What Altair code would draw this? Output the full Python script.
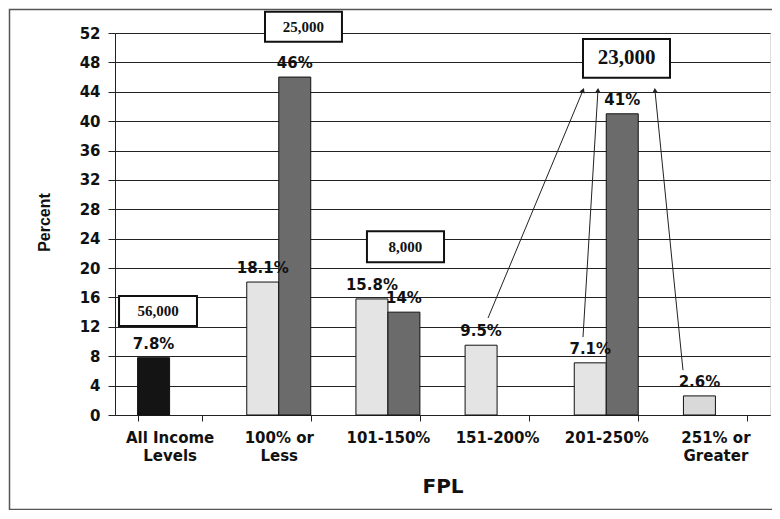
import altair as alt
import pandas as pd

# ---- chart values ----
categories = ["All Income Levels", "100% or Less", "101-150%", "151-200%", "201-250%", "251% or Greater"]
series1 = [7.8, 18.1, 15.8, 9.5, 7.1, 2.6]
series2 = [None, 46, 14, None, 41, None]
labels1 = ["7.8%", "18.1%", "15.8%", "9.5%", "7.1%", "2.6%"]
labels2 = ["", "46%", "14%", "", "41%", ""]
kinds1 = ["black", "light", "light", "light", "light", "dotted"]
label_lines = {
    "All Income Levels": ["All Income", "Levels"],
    "100% or Less": ["100% or", "Less"],
    "251% or Greater": ["251% or", "Greater"],
}

# ---- annotation callouts (x in category units 0..6, y in percent units) ----
box_text = ["25,000", "56,000", "8,000", "23,000"]
box_x1 = [1.374, 0.037, 2.308, 4.287]
box_x2 = [2.079, 0.751, 3.014, 5.084]
box_y1 = [50.8, 12.1, 20.8, 45.9]
box_y2 = [54.9, 16.2, 25.0, 51.2]
box_size = [15, 15, 15, 21]

arrow_x1 = [3.417, 4.287, 5.203]
arrow_y1 = [13.2, 10.6, 6.1]
arrow_x2 = [4.287, 4.424, 4.946]
arrow_y2 = [44.2, 44.2, 44.2]
arrow_angle = [22.6, 3.5, 354.3]

rows = []
for i, c in enumerate(categories):
    rows.append({"cat": c, "series": "s1", "value": series1[i], "kind": kinds1[i], "label": labels1[i]})
    if series2[i] is not None:
        rows.append({"cat": c, "series": "s2", "value": series2[i], "kind": "dark", "label": labels2[i]})
bars_df = pd.DataFrame(rows)

boxes_df = pd.DataFrame({
    "text": box_text, "x1": box_x1, "x2": box_x2, "y1": box_y1, "y2": box_y2, "size": box_size,
})
boxes_df["xc"] = (boxes_df["x1"] + boxes_df["x2"]) / 2
boxes_df["yc"] = (boxes_df["y1"] + boxes_df["y2"]) / 2

arrows_df = pd.DataFrame({
    "x1": arrow_x1, "y1": arrow_y1, "x2": arrow_x2, "y2": arrow_y2, "angle": arrow_angle,
})

expr_parts = []
for k, v in label_lines.items():
    expr_parts.append(f"datum.value == '{k}' ? ['{v[0]}', '{v[1]}'] : ")
label_expr = "".join(expr_parts) + "datum.value"

y_scale = alt.Scale(domain=[0, 52], nice=False, zero=True)
x_scale = alt.Scale(domain=categories, paddingInner=0.414, paddingOuter=0.207)
off_scale = alt.Scale(domain=["s1", "s2"], paddingInner=0, paddingOuter=0)

y_axis = alt.Axis(
    values=list(range(0, 53, 4)), tickSize=7, labelPadding=8, grid=True,
    gridColor="#222", domainColor="#222", tickColor="#222", labelOverlap=False,
    labelFont="DejaVu Sans", labelFontWeight="bold", labelFontSize=15, labelColor="#111",
    title="Percent", titleFont="Liberation Sans", titleFontWeight="bold", titleFontSize=16,
    titleColor="#111", titleX=-71, titleY=189, titleAngle=270, titleBaseline="middle",
)
x_axis = alt.Axis(
    title="FPL", labelExpr=label_expr, labelAngle=0, tickBand="extent", tickSize=6,
    labelPadding=9, labelFont="DejaVu Sans", labelFontWeight="bold", labelFontSize=15,
    labelLineHeight=18, labelColor="#111", domainColor="#222", tickColor="#222", grid=False,
    labelOverlap=False,
    titleFont="DejaVu Sans", titleFontWeight="bold", titleFontSize=20, titleColor="#111",
    titleY=71, titleBaseline="middle",
)

fill_scale = alt.Scale(domain=["black", "light", "dark", "dotted"],
                       range=["#141414", "#e4e4e4", "#6b6b6b", "#d9d9d9"])

border = alt.Chart(pd.DataFrame({"a": [0]})).mark_rect(
    fill=None, stroke="#555", strokeWidth=1.5
).encode(
    x=alt.value(-105.5), x2=alt.value(720), y=alt.value(-23.5), y2=alt.value(476.5)
)

bars = alt.Chart(bars_df).mark_bar(stroke="#111", strokeWidth=1).encode(
    x=alt.X("cat:N", sort=categories, scale=x_scale, axis=x_axis),
    xOffset=alt.XOffset("series:N", scale=off_scale),
    y=alt.Y("value:Q", scale=y_scale, axis=y_axis),
    fill=alt.Fill("kind:N", scale=fill_scale, legend=None),
)

bar_labels = alt.Chart(bars_df).mark_text(
    font="DejaVu Sans", fontWeight="bold", fontSize=15, color="#111",
    baseline="alphabetic", dy=-9,
).encode(
    x=alt.X("cat:N", sort=categories, scale=x_scale, axis=x_axis),
    xOffset=alt.XOffset("series:N", scale=off_scale),
    y=alt.Y("value:Q", scale=y_scale, axis=y_axis),
    text="label:N",
)

ax = alt.Scale(domain=[0, 6], nice=False, zero=False)

arrow_lines = alt.Chart(arrows_df).mark_rule(color="#222", strokeWidth=1).encode(
    x=alt.X("x1:Q", scale=ax, axis=None), x2="x2:Q",
    y=alt.Y("y1:Q", scale=y_scale, axis=y_axis), y2="y2:Q",
)
arrow_heads = alt.Chart(arrows_df).mark_point(
    shape="triangle-up", filled=True, color="#222", size=30, opacity=1
).encode(
    x=alt.X("x2:Q", scale=ax, axis=None),
    y=alt.Y("y2:Q", scale=y_scale, axis=y_axis),
    angle=alt.Angle("angle:Q", scale=None),
)

box_rects = alt.Chart(boxes_df).mark_rect(fill="white", stroke="#111", strokeWidth=2).encode(
    x=alt.X("x1:Q", scale=ax, axis=None), x2="x2:Q",
    y=alt.Y("y1:Q", scale=y_scale, axis=y_axis), y2="y2:Q",
)
box_labels = alt.Chart(boxes_df).mark_text(
    font="Liberation Serif", fontWeight="bold", color="#111", baseline="middle", align="center"
).encode(
    x=alt.X("xc:Q", scale=ax, axis=None),
    y=alt.Y("yc:Q", scale=y_scale, axis=y_axis),
    text="text:N",
    size=alt.Size("size:Q", scale=None, legend=None),
)

chart = alt.layer(
    border, alt.layer(bars, bar_labels), arrow_lines, arrow_heads, box_rects, box_labels
).resolve_scale(x="independent").properties(
    width=655, height=382,
    autosize=alt.AutoSizeParams(type="none"),
    padding={"left": 107, "top": 25, "right": 2, "bottom": 95},
).configure_view(stroke="#222", strokeWidth=1).configure(background="white")

chart.save("out.html", embed_options={"renderer": "svg", "actions": False})
